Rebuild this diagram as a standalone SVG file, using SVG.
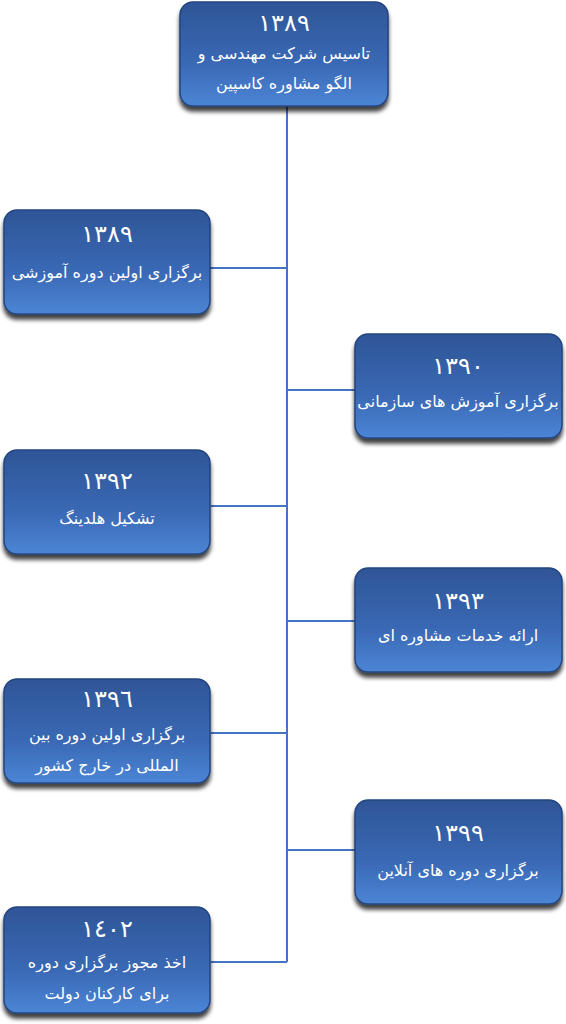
<svg xmlns="http://www.w3.org/2000/svg" width="566" height="1024" viewBox="0 0 566 1024">
<defs>
<linearGradient id="g" x1="0" y1="0" x2="0" y2="1">
<stop offset="0" stop-color="#2F5597"/>
<stop offset="0.6" stop-color="#3A69B5"/>
<stop offset="1" stop-color="#4C85D6"/>
</linearGradient>
<filter id="sh" x="-10%" y="-10%" width="120%" height="130%">
<feGaussianBlur in="SourceAlpha" stdDeviation="2"/>
<feOffset dx="0" dy="5"/>
<feComponentTransfer><feFuncA type="linear" slope="0.75"/></feComponentTransfer>
<feMerge><feMergeNode/><feMergeNode in="SourceGraphic"/></feMerge>
</filter>
</defs>
<style>
.box{fill:url(#g);stroke:#24457F;stroke-width:1.5;filter:url(#sh)}
.yr{font-family:"DejaVu Sans",sans-serif;font-size:24px;fill:#fff;text-anchor:middle}
.t{font-family:"DejaVu Sans",sans-serif;font-size:16px;fill:#fff;text-anchor:middle;direction:rtl}
.c{stroke:#4472C4;stroke-width:2;fill:none}
</style>
<g id="connectors">
<path class="c" d="M287 106 V962"/>
<path class="c" d="M210 268 H287"/>
<path class="c" d="M287 390 H355"/>
<path class="c" d="M211 506 H287"/>
<path class="c" d="M287 621 H355"/>
<path class="c" d="M211 733 H287"/>
<path class="c" d="M287 850 H355"/>
<path class="c" d="M211 962 H287"/>
</g>
<g id="n0">
<rect class="box" x="180" y="2" width="208" height="104" rx="13"/>
<text class="yr" x="284" y="31">١٣٨٩</text>
<text class="t" x="284" y="59">تاسیس شرکت مهندسی و</text>
<text class="t" x="284" y="89">الگو مشاوره کاسپین</text>
</g>
<g id="n1">
<rect class="box" x="4" y="210" width="206" height="104" rx="13"/>
<text class="yr" x="107" y="242">١٣٨٩</text>
<text class="t" x="107" y="278">برگزاری اولین دوره آموزشی</text>
</g>
<g id="n2">
<rect class="box" x="355" y="334" width="207" height="104" rx="13"/>
<text class="yr" x="458" y="374">١٣٩٠</text>
<text class="t" x="458" y="407">برگزاری آموزش های سازمانی</text>
</g>
<g id="n3">
<rect class="box" x="4" y="450" width="206" height="104" rx="13"/>
<text class="yr" x="107" y="489">١٣٩٢</text>
<text class="t" x="107" y="524">تشکیل هلدینگ</text>
</g>
<g id="n4">
<rect class="box" x="355" y="568" width="207" height="104" rx="13"/>
<text class="yr" x="458" y="609">١٣٩٣</text>
<text class="t" x="458" y="641">ارائه خدمات مشاوره ای</text>
</g>
<g id="n5">
<rect class="box" x="4" y="679" width="206" height="104" rx="13"/>
<text class="yr" x="107" y="707">١٣٩٦</text>
<text class="t" x="107" y="740">برگزاری اولین دوره بین</text>
<text class="t" x="107" y="771">المللی در خارج کشور</text>
</g>
<g id="n6">
<rect class="box" x="355" y="800" width="207" height="104" rx="13"/>
<text class="yr" x="458" y="841">١٣٩٩</text>
<text class="t" x="458" y="876">برگزاری دوره های آنلاین</text>
</g>
<g id="n7">
<rect class="box" x="4" y="907" width="206" height="106" rx="13"/>
<text class="yr" x="107" y="937">١٤٠٢</text>
<text class="t" x="107" y="968">اخذ مجوز برگزاری دوره</text>
<text class="t" x="107" y="999">برای کارکنان دولت</text>
</g>
</svg>
